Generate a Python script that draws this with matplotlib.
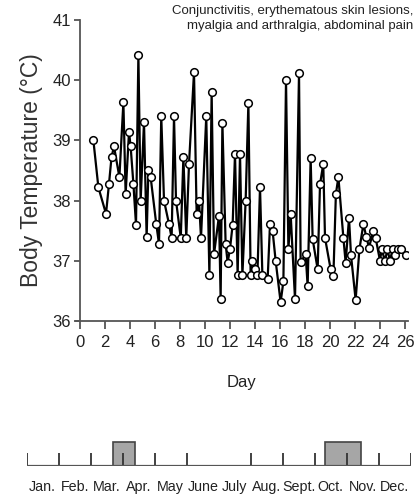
#!/usr/bin/env python3
"""
plot.py - Body temperature over days of illness, with episode timeline
"""

import matplotlib
matplotlib.use("Agg")
import matplotlib.pyplot as plt
from matplotlib.patches import Rectangle

NARROW = ["Liberation Sans Narrow", "Liberation Sans", "DejaVu Sans"]
REGULAR = ["Liberation Sans", "DejaVu Sans"]

# readings: day of illness and temperature (deg C)
days = [1.07, 1.47, 2.08, 2.32, 2.52, 2.72, 3.15, 3.47, 3.65, 3.92, 4.05,
        4.27, 4.48, 4.67, 4.85, 5.12, 5.33, 5.47, 5.65, 6.1, 6.32, 6.5,
        6.72, 7.12, 7.33, 7.52, 7.68, 8.06, 8.27, 8.5, 8.72, 9.12, 9.33,
        9.52, 9.68, 10.1, 10.35, 10.53, 10.72, 11.12, 11.25, 11.39, 11.65,
        11.81, 12.0, 12.21, 12.4, 12.61, 12.8, 12.99, 13.25, 13.47, 13.65,
        13.79, 14.0, 14.19, 14.4, 14.59, 15.01, 15.2, 15.41, 15.65, 16.05,
        16.27, 16.48, 16.67, 16.85, 17.2, 17.52, 17.65, 18.05, 18.21, 18.45,
        18.61, 19.01, 19.2, 19.46, 19.6, 20.05, 20.27, 20.47, 20.67, 21.07,
        21.25, 21.52, 21.68, 22.05, 22.35, 22.67, 22.9, 23.12, 23.47, 23.65,
        24.0, 24.13, 24.4, 24.59, 24.8, 25.0, 25.2, 25.47, 25.68, 26.08]
temps = [39.0, 38.22, 37.78, 38.28, 38.72, 38.9, 38.39, 39.63, 38.11, 39.14,
         38.9, 38.28, 37.6, 40.42, 38.0, 39.3, 37.39, 38.51, 38.39, 37.61,
         37.28, 39.4, 38.0, 37.61, 37.38, 39.4, 38.0, 37.38, 38.72, 37.38,
         38.61, 40.13, 37.78, 38.0, 37.38, 39.4, 36.76, 39.8, 37.11, 37.75,
         36.37, 39.29, 37.28, 36.97, 37.2, 37.6, 38.78, 36.76, 38.78, 36.76,
         38.0, 39.62, 36.76, 37.0, 36.86, 36.76, 38.22, 36.76, 36.69, 37.61,
         37.49, 37.0, 36.31, 36.66, 40.0, 37.19, 37.78, 36.36, 40.12, 36.98,
         37.11, 36.58, 38.71, 37.36, 36.86, 38.27, 38.61, 37.38, 36.86, 36.75,
         38.11, 38.39, 37.38, 36.97, 37.71, 37.09, 36.35, 37.19, 37.61, 37.4,
         37.22, 37.5, 37.38, 37.0, 37.19, 37.0, 37.19, 37.0, 37.19, 37.1,
         37.19, 37.19, 37.1]

day_ticks = list(range(0, 27, 2))
temp_ticks = [36, 37, 38, 39, 40, 41]

symptoms = "Conjunctivitis, erythematous skin lesions,\nmyalgia and arthralgia, abdominal pain"

months = ["Jan.", "Feb.", "Mar.", "Apr.", "May", "June", "July", "Aug.",
          "Sept.", "Oct.", "Nov.", "Dec."]
month_bounds = [0, 1, 2, 3, 4, 5, 7, 8, 9, 10, 11, 12]   # July tick not drawn
episodes = [(2.69, 3.38), (9.33, 10.44)]   # in months from Jan 1

AXIS_COLOR = "#555555"


def main():
    fig = plt.figure(figsize=(4.19, 5.01), dpi=100)

    # temperature curve
    ax = fig.add_axes([0.182, 0.3593, 0.7906, 0.6008])
    ax.plot(days, temps, color="black", lw=1.6, marker="o", ms=5.5,
            mfc="white", mec="black", mew=1.1, zorder=3)
    ax.set_xlim(-0.3, 26.2)
    ax.set_ylim(36, 41)
    ax.spines["left"].set_position(("data", 0))
    for side in ("top", "right"):
        ax.spines[side].set_visible(False)
    for side in ("left", "bottom"):
        ax.spines[side].set_color(AXIS_COLOR)
        ax.spines[side].set_linewidth(1.3)
    ax.set_xticks(day_ticks)
    ax.set_yticks(temp_ticks)
    ax.tick_params(axis="x", length=6, width=1.3, color=AXIS_COLOR, pad=4)
    ax.tick_params(axis="y", length=4.5, width=1.3, color=AXIS_COLOR, pad=2)
    for lbl in ax.get_xticklabels() + ax.get_yticklabels():
        lbl.set_family(NARROW)
        lbl.set_fontsize(12)
        lbl.set_color("#222222")
    ax.set_xlabel("Day", family=NARROW, fontsize=12, labelpad=18, color="#222222")
    ax.set_ylabel("Body Temperature (\u00b0C)", family=REGULAR, fontsize=16.5,
                  labelpad=7, color="#333333")

    fig.text(413 / 419, 1 - 5 / 501, symptoms, ha="right", va="top",
             family=NARROW, fontsize=9.5, linespacing=1.35, color="#222222")

    # month timeline with episodes
    tl = fig.add_axes([0.0637, 0.0689, 0.917, 0.0529])
    tl.set_xlim(0, 12)
    tl.set_ylim(0, 1)
    for start, end in episodes:
        tl.add_patch(Rectangle((start, 0), end - start, 0.92,
                               facecolor="#a6a6a6", edgecolor="#444444",
                               lw=1.2, zorder=1))
    tl.vlines(month_bounds, 0, 0.49, color="#333333", lw=1.3, zorder=2)
    tl.axhline(0, color=AXIS_COLOR, lw=1.6, zorder=3)
    for side in tl.spines:
        tl.spines[side].set_visible(False)
    tl.set_yticks([])
    tl.set_xticks([i + 0.5 for i in range(12)])
    tl.set_xticklabels(months, family=NARROW, fontsize=10.3, color="#222222")
    tl.tick_params(axis="x", length=0, pad=10)

    fig.savefig("out.png", dpi=100)


if __name__ == "__main__":
    main()
